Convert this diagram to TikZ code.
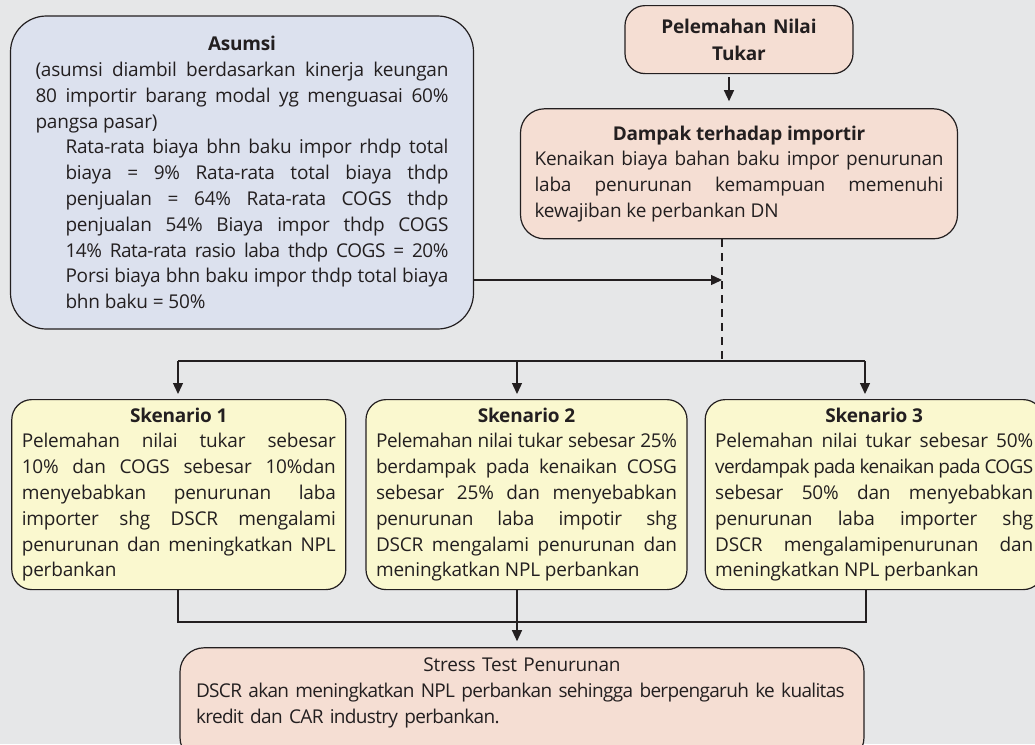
\documentclass[tikz,border=0pt]{standalone}
\usepackage{fontspec}
\setmainfont{Open Sans}[LetterSpace=-1]
\usetikzlibrary{arrows.meta, positioning}

\definecolor{bgcol}{HTML}{E6E7E8}
\definecolor{linec}{HTML}{231F20}
\definecolor{bluebox}{HTML}{DCE1EE}
\definecolor{pinkbox}{HTML}{F5DED3}
\definecolor{yellowbox}{HTML}{FAF8CF}

\tolerance=10000
\hbadness=10000
\hyphenpenalty=10000

% rapatkan spasi huruf untuk baris yang padat
\newcommand{\rapat}[2]{{\addfontfeature{LetterSpace=#1}#2}}

\begin{document}
\begin{tikzpicture}[
    x=1pt, y=-1pt,
    node distance=20pt,
    box/.style       = {rectangle, draw=linec, line width=1.2pt, text=linec, align=justify, font=\fontsize{19}{25.8}\selectfont},
    asumsibox/.style = {box, fill=bluebox, rounded corners=36pt, text width=413pt, inner xsep=25pt, minimum height=313pt},
    tukarbox/.style  = {box, fill=pinkbox, rounded corners=20pt, text width=200pt, inner xsep=14pt, minimum height=68pt, align=center, font=\fontsize{19}{27}\selectfont\bfseries},
    dampakbox/.style = {box, fill=pinkbox, rounded corners=24pt, text width=409pt, inner xsep=14pt, minimum height=130pt},
    skenbox/.style   = {box, fill=yellowbox, rounded corners=20pt, inner xsep=10pt, minimum height=190pt},
    stressbox/.style = {box, fill=pinkbox, rounded corners=24pt, text width=652pt, inner xsep=16pt, inner ysep=10pt, align=left, text depth=80pt},
    link/.style      = {draw=linec, line width=1.3pt},
    arrow/.style     = {link, -{Triangle[length=11pt, width=10pt]}}
]

    % --- Latar ---
    \path[use as bounding box, fill=bgcol] (0,0) rectangle (1035,744);

    % --- Kotak Asumsi ---
    \node (asumsi) [asumsibox] at (242,172.5) {%
        {\centering\bfseries Asumsi\par}
        (asumsi diambil berdasarkan kinerja keungan\linebreak
        80 importir barang modal yg menguasai 60\%\linebreak
        pangsa pasar)\par
        {\leftskip=30pt Rata-rata biaya bhn baku impor rhdp total\linebreak
        biaya = 9\% Rata-rata total biaya thdp\linebreak
        penjualan = 64\% Rata-rata COGS thdp\linebreak
        penjualan 54\% Biaya impor thdp COGS\linebreak
        \rapat{-2.5}{14\% Rata-rata rasio laba thdp COGS = 20\%}\linebreak
        Porsi biaya bhn baku impor thdp total biaya\linebreak
        bhn baku = 50\%\par}};

    % --- Alur Atas ---
    \node (tukar)  [tukarbox, anchor=north] at (739,5) {Pelemahan Nilai\\ Tukar};
    \node (dampak) [dampakbox, below=34pt of tukar] {%
        {\centering\bfseries Dampak terhadap importir\par}
        Kenaikan biaya bahan baku impor penurunan\linebreak
        laba penurunan kemampuan memenuhi\linebreak
        kewajiban ke perbankan DN};

    % --- Skenario ---
    \node (sken2) [skenbox, text width=301pt, anchor=north] at (526.5,399) {%
        {\centering\bfseries Skenario 2\par}
        \rapat{-2}{Pelemahan nilai tukar sebesar 25\%}\linebreak
        berdampak pada kenaikan COSG\linebreak
        sebesar 25\% dan menyebabkan\linebreak
        penurunan laba impotir shg\linebreak
        DSCR mengalami penurunan dan\linebreak
        meningkatkan NPL perbankan};
    \node (sken1) [skenbox, text width=314pt, left=19pt of sken2] {%
        {\centering\bfseries Skenario 1\par}
        Pelemahan nilai tukar sebesar\linebreak
        10\% dan COGS sebesar 10\%dan\linebreak
        menyebabkan penurunan laba\linebreak
        importer shg DSCR mengalami\linebreak
        penurunan dan meningkatkan NPL\linebreak
        perbankan};
    \node (sken3) [skenbox, text width=318pt, right=17pt of sken2] {%
        {\centering\bfseries Skenario 3\par}
        Pelemahan nilai tukar sebesar 50\%\linebreak
        \rapat{-3.5}{verdampak pada kenaikan pada COGS}\linebreak
        sebesar 50\% dan menyebabkan\linebreak
        penurunan laba importer shg\linebreak
        DSCR mengalamipenurunan dan\linebreak
        meningkatkan NPL perbankan};

    % --- Hasil Akhir ---
    \node (stress) [stressbox, below=57pt of sken2, xshift=-4.5pt] {%
        {\centering Stress Test Penurunan\par}
        \rapat{-3.5}{DSCR akan meningkatkan NPL perbankan sehingga berpengaruh ke kualitas}\\
        \rapat{-3.5}{kredit dan CAR industry perbankan.}};

    % --- Titik Jalur ---
    \coordinate (join) at (722,280);
    \coordinate (tap)  at (722,361);
    \coordinate (busL) at (178,361);
    \coordinate (busM) at (517,361);
    \coordinate (busR) at (865,361);
    \coordinate (lowL) at (178,622);
    \coordinate (lowR) at (866,622);

    % --- Garis ---
    \draw [arrow, shorten <=3pt, shorten >=7pt] ([xshift=-10pt]tukar.south) -- ([xshift=-10pt]tukar.south |- dampak.north);
    \draw [link, dash pattern=on 8pt off 6pt] (dampak.south -| tap) -- (tap);
    \draw [arrow] (asumsi.east |- join) -- (join);

    % Percabangan ke skenario
    \draw [link] (busL) -- (busR);
    \draw [arrow, shorten >=5pt] (busL) -- (busL |- sken1.north);
    \draw [arrow, shorten >=5pt] (busM) -- (busM |- sken2.north);
    \draw [arrow, shorten >=5pt] (busR) -- (busR |- sken3.north);

    % Penggabungan ke stress test
    \draw [link] (sken1.south -| lowL) -- (lowL) -- (lowR) -- (sken3.south -| lowR);
    \draw [arrow, shorten >=6pt] (sken2.south -| busM) -- (busM |- stress.north);

\end{tikzpicture}
\end{document}
